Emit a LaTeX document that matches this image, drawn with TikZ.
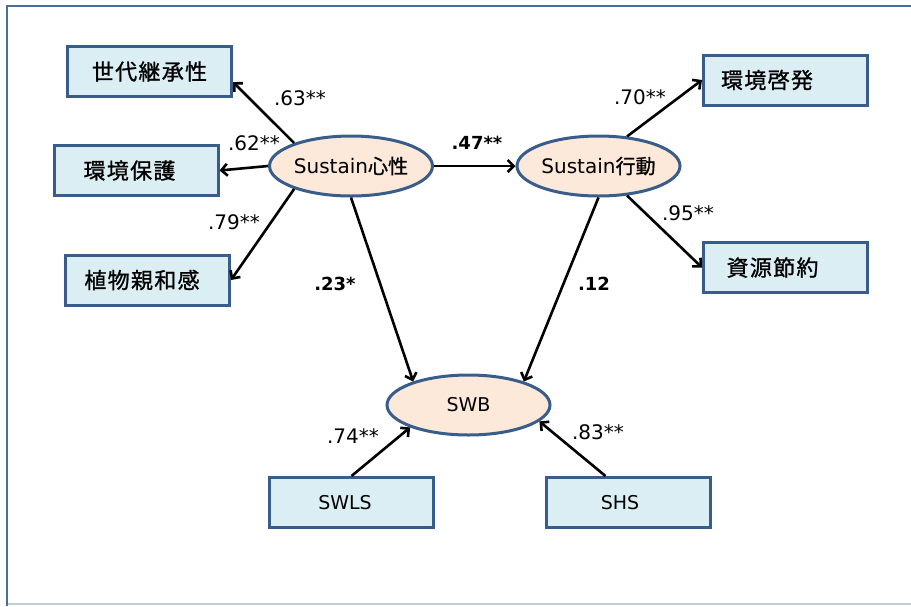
\documentclass[tikz,border=0pt]{standalone}
\usepackage{fontspec}
\usepackage{tikz}
\usetikzlibrary{shapes.geometric,arrows.meta}
\setmainfont{DejaVu Sans}
\newfontfamily\jp{Noto Sans CJK JP}[FakeBold=1]
\newfontfamily\jpwide{Noto Sans CJK JP}[LetterSpace=6,FakeBold=1]
\definecolor{boxfill}{HTML}{DAEEF3}
\definecolor{ovalfill}{HTML}{FDE9D9}
\definecolor{lineblue}{HTML}{385D8A}
\definecolor{frameblue}{HTML}{4F6D99}
\definecolor{framegray}{HTML}{BFCCDA}

\begin{document}
\begin{tikzpicture}[x=1pt, y=-1pt,
    obs/.style={rectangle, draw=lineblue, fill=boxfill, line width=3pt, minimum width=164pt, minimum height=50pt, font=\fontsize{22}{24}\jpwide},
    tshift/.style={execute at begin node={\hspace*{#1}}},
    lat/.style={ellipse, draw=lineblue, fill=ovalfill, line width=3pt, minimum width=163pt, minimum height=60pt, inner sep=0pt, font=\fontsize{20}{22}\selectfont},
    arr/.style={->, >={Straight Barb[length=6pt,width=12pt]}, line width=2.6pt},
    coef/.style={font=\fontsize{20}{22}\selectfont},
    bcoef/.style={font=\fontsize{18}{20}\selectfont\bfseries}]
            \useasboundingbox (0,0) rectangle (911,606);
            \draw[framegray, line width=2pt] (7,604) -- (911,604);
            \draw[frameblue, line width=2pt] (911,6) -- (7,6) -- (7,606);

            \node[obs] (gen) at (149.5,71.5) {世代継承性};
            \node[obs, tshift=-13pt] (env) at (136,170.5) {環境保護};
            \node[obs, tshift=-11pt] (plant) at (147.5,280) {植物親和感};
            \node[obs, tshift=-37pt] (edu) at (785.5,80) {環境啓発};
            \node[obs, tshift=-26pt] (save) at (785.5,267.5) {資源節約};
            \node[obs, tshift=-13pt, font=\fontsize{19}{20}\selectfont] (swls) at (351.5,502.5) {SWLS};
            \node[obs, tshift=-17pt, font=\fontsize{19}{20}\selectfont] (shs) at (628.5,502.5) {SHS};

            \node[lat] (mind) at (351,166) {Sustain{\jp 心性}};
            \node[lat] (act) at (598.5,166) {Sustain{\jp 行動}};
            \node[lat, font=\fontsize{19}{22}\selectfont] (swb) at (468.5,405) {SWB};

            \draw[arr] (mind.158) -- ([yshift=-10.5pt]gen.east);
            \draw[arr] (mind.west) -- (env.east);
            \draw[arr] (mind.202) -- (plant.east);
            \draw[arr] (mind.east) -- (act.west);
            \draw[arr] (act.46) -- (edu.west);
            \draw[arr] (act.314) -- (save.west);
            \draw[arr] (mind.south) -- (swb.157);
            \draw[arr] (act.south) -- (swb.23);
            \draw[arr] (swls.north) -- (swb.201);
            \draw[arr] ([xshift=-23pt]shs.north) -- (swb.347);

            \node[coef] (c63) at (300,98) {.63**};
            \node[coef] (c62) at (254,143) {.62**};
            \node[coef] (c79) at (234,222) {.79**};
            \node[bcoef] (c47) at (477,143) {.47**};
            \node[coef] (c70) at (640,97) {.70**};
            \node[coef] (c95) at (688,213) {.95**};
            \node[bcoef] (c23) at (335,284) {.23*};
            \node[bcoef] (c12) at (594,284) {.12};
            \node[coef] (c74) at (353,436) {.74**};
            \node[coef] (c83) at (598,432) {.83**};
        \end{tikzpicture}
\end{document}
